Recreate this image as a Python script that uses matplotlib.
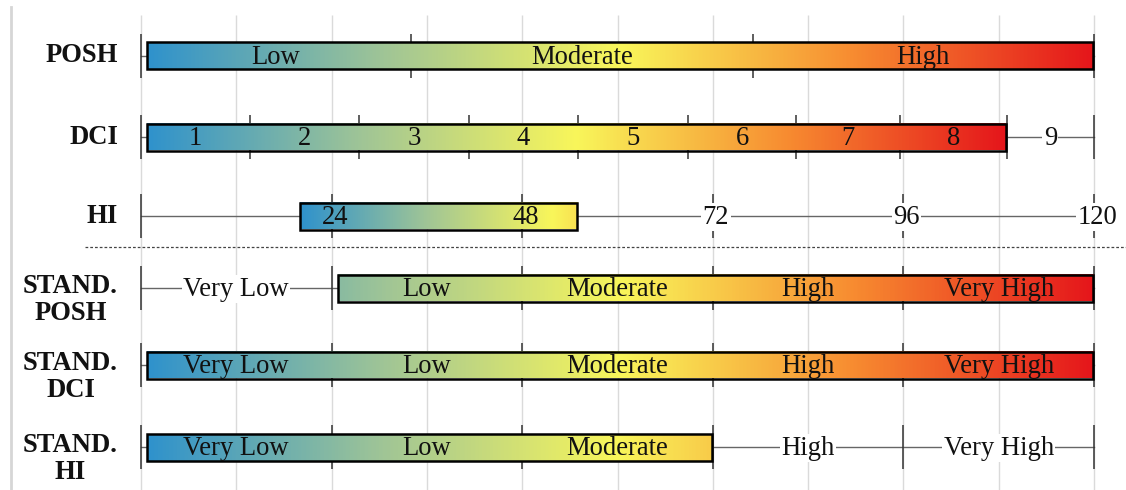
import numpy as np
import matplotlib
matplotlib.use("Agg")
import matplotlib.pyplot as plt
from matplotlib.colors import LinearSegmentedColormap
from matplotlib.patches import Rectangle
from matplotlib.lines import Line2D

plt.rcParams["font.family"] = ["Liberation Serif", "DejaVu Serif"]

# ── data (common 0–120 scale, the HI scale) ─────────────────────────────
row_names = ["POSH", "DCI", "HI", "STAND.\nPOSH", "STAND.\nDCI", "STAND.\nHI"]

posh_breaks = [0, 34, 77, 120]
posh_labels = ["Low", "Moderate", "High"]

dci_breaks = [0, 13.7, 27.5, 41.3, 55.0, 68.9, 82.5, 95.6, 109.0, 120]
dci_labels = ["1", "2", "3", "4", "5", "6", "7", "8", "9"]

hi_breaks = [0, 24, 48, 72, 96, 120]
hi_labels = ["24", "48", "72", "96", "120"]

stand_breaks = [0, 24, 48, 72, 96, 120]
stand_labels = ["Very Low", "Low", "Moderate", "High", "Very High"]

# coloured bar extent per row
bar_start = [0, 0, 20, 24, 0, 0]
bar_end = [120, 109, 55, 120, 120, 72]

# ── style ──────────────────────────────────────────────────────────────
ROW_Y = [56, 137, 216, 288, 365, 447]          # pixel rows (y axis = pixels)
BAR_H = 27
TICK_H = 22
INSET = 0.75
FS = 19.2
GRAD = [(0, 1), (0, 1), (0, 0.55), (0.2, 1), (0, 1), (0, 0.6)]

cmap = LinearSegmentedColormap.from_list(
    "risk",
    [(0.0, "#2f92cc"), (0.25, "#a0c596"), (0.5, "#f9f65a"),
     (0.75, "#f78a30"), (1.0, "#e5161b")],
)

PX = 953 / 120  # pixels per unit
fig = plt.figure(figsize=(11.26, 4.9), dpi=100)
ax = fig.add_axes([0, 0, 1, 1])
ax.set_xlim(-141 / PX, 120 + 32 / PX)
ax.set_ylim(490, 0)
ax.axis("off")

# grid + frame
ax.vlines(np.arange(0, 121, 12), 15, 490, color="#dadada", lw=1, zorder=0)
fig.add_artist(Line2D([11 / 1126, 11 / 1126], [0, 0.985], color="#d6d6d6",
                      lw=2, transform=fig.transFigure))
ax.plot([-56 / PX, 124], [247, 247], ls=(0, (2.2, 1.6)), color="#444444",
        lw=0.9, zorder=1)

rows = [
    (posh_breaks, posh_labels, "center"),
    (dci_breaks, dci_labels, "center"),
    (hi_breaks, hi_labels, "tick"),
    (stand_breaks, stand_labels, "center"),
    (stand_breaks, stand_labels, "center"),
    (stand_breaks, stand_labels, "center"),
]

for i, (breaks, labels, mode) in enumerate(rows):
    y = ROW_Y[i]
    ax.plot([0, 120], [y, y], color="#666666", lw=1, zorder=2)
    ax.vlines(breaks, y - TICK_H, y + TICK_H, color="#333333", lw=1.1, zorder=2)

    s = bar_start[i] + (INSET if bar_start[i] in breaks else 0)
    e = bar_end[i] - 0.1
    c0, c1 = GRAD[i]
    grad = np.linspace(c0, c1, 512).reshape(1, -1)
    ax.imshow(grad, cmap=cmap, vmin=0, vmax=1, aspect="auto",
              extent=(s, e, y + BAR_H / 2, y - BAR_H / 2), zorder=3,
              interpolation="bilinear")
    ax.add_patch(Rectangle((s, y - BAR_H / 2), e - s, BAR_H, fill=False,
                           ec="black", lw=1.8, zorder=4))

    if mode == "center":
        xs = [(a + b) / 2 for a, b in zip(breaks[:-1], breaks[1:])]
    else:
        xs = [b + 0.4 for b in breaks[1:]]
    for x, lab in zip(xs, labels):
        inside = s <= x <= e
        kw = {} if inside else dict(bbox=dict(fc="white", ec="none", pad=1.0))
        ax.text(x, y + 1, lab, ha="center", va="center", fontsize=FS,
                color="#111111", zorder=5, **kw)

    ny = y if "\n" not in row_names[i] else y + 12
    ax.text(-23 / PX, ny, row_names[i], ha="right", va="center",
            multialignment="center", fontsize=FS, fontweight="bold",
            linespacing=1.08, color="#111111")

ax.set_ylim(490, 0)
fig.savefig("out.png", dpi=100)
